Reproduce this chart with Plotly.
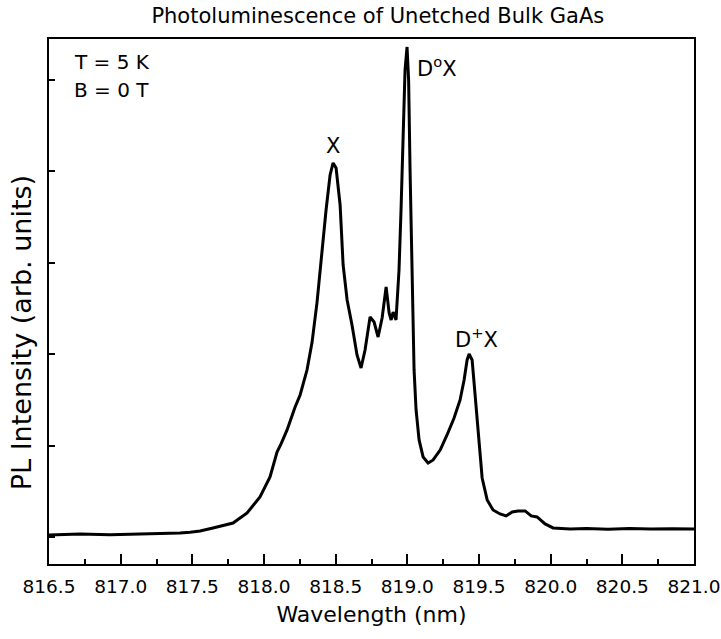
import plotly.graph_objects as go

# PL spectrum of unetched bulk GaAs at 5 K, zero field
wavelength_nm = [
    816.500, 816.716, 816.926, 817.135, 817.344, 817.414, 817.484, 817.554,
    817.644, 817.784, 817.882, 817.972, 818.042, 818.091, 818.119, 818.161,
    818.217, 818.252, 818.300, 818.335, 818.370, 818.391, 818.433, 818.461,
    818.482, 818.503, 818.531, 818.552, 818.580, 818.614, 818.649, 818.677,
    818.705, 818.740, 818.768, 818.796, 818.824, 818.852, 818.873, 818.887,
    818.901, 818.921, 818.942, 818.956, 818.970, 818.984, 818.998, 819.009,
    819.019, 819.033, 819.047, 819.061, 819.082, 819.110, 819.145, 819.180,
    819.229, 819.277, 819.326, 819.368, 819.396, 819.417, 819.431, 819.452,
    819.473, 819.494, 819.522, 819.557, 819.598, 819.647, 819.689, 819.731,
    819.773, 819.822, 819.864, 819.905, 819.961, 820.017, 820.136, 820.250,
    820.400, 820.550, 820.700, 820.850, 821.000,
]
intensity = [
    0.027, 0.038, 0.030, 0.036, 0.040, 0.049, 0.058, 0.071,
    0.104, 0.158, 0.268, 0.443, 0.661, 0.934, 1.022, 1.175,
    1.426, 1.557, 1.830, 2.130, 2.570, 2.930, 3.579, 3.962,
    4.093, 4.038, 3.634, 2.978, 2.596, 2.322, 1.995, 1.852,
    2.049, 2.410, 2.355, 2.191, 2.399, 2.738, 2.454, 2.377,
    2.464, 2.377, 2.923, 3.579, 4.344, 5.109, 5.361, 5.000,
    4.016, 2.705, 1.831, 1.393, 1.066, 0.880, 0.814, 0.847,
    0.956, 1.120, 1.306, 1.503, 1.721, 1.940, 2.005, 1.940,
    1.557, 1.120, 0.650, 0.410, 0.301, 0.257, 0.235, 0.279,
    0.290, 0.290, 0.235, 0.224, 0.148, 0.104, 0.093, 0.098,
    0.090, 0.097, 0.092, 0.096, 0.093,
]

x_ticks = [816.5, 817.0, 817.5, 818.0, 818.5, 819.0, 819.5, 820.0, 820.5, 821.0]

# peak labels: (wavelength, intensity, text)
peak_labels = [
    (818.48, 4.28, "X"),
    (819.21, 5.14, "D<sup>o</sup>X"),
    (819.48, 2.18, "D<sup>+</sup>X"),
]
conditions = ["T = 5 K", "B = 0 T"]

FONT = "DejaVu Sans, Liberation Sans, Arial, sans-serif"

fig = go.Figure()
fig.add_trace(go.Scatter(
    x=wavelength_nm, y=intensity, mode="lines",
    line=dict(color="black", width=3, shape="linear"),
    hoverinfo="skip", showlegend=False,
))

for wx, wy, txt in peak_labels:
    fig.add_annotation(x=wx, y=wy, text=txt, showarrow=False,
                       font=dict(family=FONT, size=21, color="black"))

for i, txt in enumerate(conditions):
    fig.add_annotation(xref="paper", yref="paper", x=0.035, y=0.957 - i * 0.055,
                       xanchor="left", yanchor="middle", text=txt, showarrow=False,
                       font=dict(family=FONT, size=20, color="black"))

# vertical axis caption, placed a little below the plot centre
fig.add_annotation(xref="paper", yref="paper", x=-0.043, y=0.44,
                   xanchor="center", yanchor="middle", textangle=-90,
                   text="PL Intensity (arb. units)", showarrow=False,
                   font=dict(family=FONT, size=27, color="black"))

fig.update_layout(
    width=721, height=639,
    margin=dict(l=49, r=27, t=39, b=75, autoexpand=False),
    paper_bgcolor="white", plot_bgcolor="white",
    font=dict(family=FONT, color="black"),
    title=dict(text="Photoluminescence of Unetched Bulk GaAs",
               x=0.524, xanchor="center", y=0.976, yanchor="middle",
               font=dict(family=FONT, size=21, color="black")),
)
fig.update_xaxes(
    range=[816.5, 821.0], tickvals=x_ticks, ticktext=[f"{v:.1f}" for v in x_ticks],
    ticks="inside", ticklen=10, tickwidth=1.5, tickcolor="black",
    minor=dict(dtick=0.25, tick0=816.5, ticks="inside", ticklen=5, tickwidth=1.5, tickcolor="black"),
    showline=True, linecolor="black", linewidth=2, mirror=True,
    showgrid=False, zeroline=False, ticklabelstandoff=5, automargin=False,
    tickfont=dict(family=FONT, size=18.5, color="black"),
    title=dict(text="Wavelength (nm)", font=dict(family=FONT, size=22, color="black"), standoff=10),
)
fig.update_yaxes(
    range=[-0.29, 5.448], dtick=1, tick0=0,
    ticks="inside", ticklen=6, tickwidth=1.5, tickcolor="black",
    showticklabels=False, automargin=False,
    showline=True, linecolor="black", linewidth=2, mirror=True,
    showgrid=False, zeroline=False,
)

fig.write_html("out.html")
